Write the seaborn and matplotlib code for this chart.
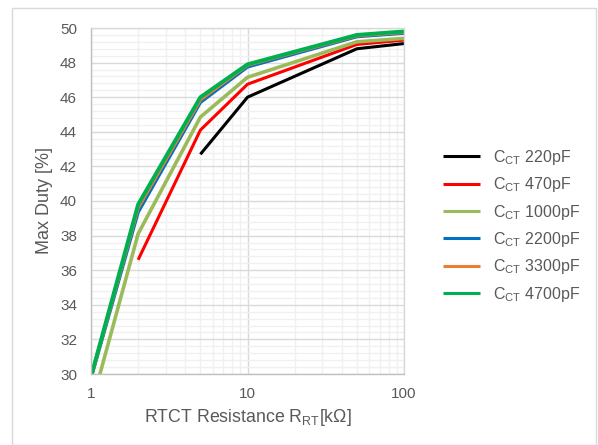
import numpy as np
import pandas as pd
import seaborn as sns
import matplotlib
matplotlib.use("Agg")
import matplotlib.pyplot as plt
from matplotlib.patches import Rectangle
from matplotlib.ticker import MultipleLocator, LogLocator, FixedLocator, NullFormatter

sns.set_theme(style="white")
plt.rcParams['font.family'] = ['Liberation Sans', 'DejaVu Sans']
plt.rcParams['mathtext.fontset'] = 'custom'
plt.rcParams['mathtext.rm'] = 'Liberation Sans'
plt.rcParams['mathtext.it'] = 'Liberation Sans'
plt.rcParams['mathtext.default'] = 'regular'

# Data
resistance = [1, 2, 5, 10, 50, 100]
series_names = ["C$_{CT}$ 220pF", "C$_{CT}$ 470pF", "C$_{CT}$ 1000pF",
                "C$_{CT}$ 2200pF", "C$_{CT}$ 3300pF", "C$_{CT}$ 4700pF"]
duty_220 = [None, None, 42.7, 46.0, 48.8, 49.1]
duty_470 = [None, 36.6, 44.1, 46.75, 49.05, 49.3]
duty_1000 = [28.1, 38.1, 44.85, 47.15, 49.2, 49.4]
duty_2200 = [29.75, 39.35, 45.7, 47.75, 49.5, 49.7]
duty_3300 = [29.8, 39.6, 45.85, 47.85, 49.55, 49.75]
duty_4700 = [29.85, 39.8, 46.0, 47.9, 49.6, 49.8]
colors = ["#000000", "#FF0000", "#9BBB59", "#0070C0", "#ED7D31", "#00B050"]
widths = [2.2, 2.2, 2.6, 2.4, 2.4, 2.8]

all_series = [duty_220, duty_470, duty_1000, duty_2200, duty_3300, duty_4700]
rows = []
for name, vals in zip(series_names, all_series):
    for r, v in zip(resistance, vals):
        if v is not None:
            rows.append({"R": r, "Duty": v, "Series": name})
df = pd.DataFrame(rows)

fig = plt.figure(figsize=(5.98, 4.45), dpi=100)
ax = fig.add_axes([91/598, 1-374/445, (404-91)/598, (374-28)/445])

for name, c, lw in zip(series_names, colors, widths):
    sub = df[df["Series"] == name]
    sns.lineplot(data=sub, x="R", y="Duty", ax=ax, color=c, linewidth=lw,
                 label=name, clip_on=True, solid_capstyle='butt')

ax.set_xscale("log")
ax.set_xlim(1, 100)
ax.set_ylim(30, 50)
ax.yaxis.set_major_locator(MultipleLocator(2))
ax.yaxis.set_minor_locator(MultipleLocator(0.4))
ax.xaxis.set_major_locator(FixedLocator([1, 10, 100]))
ax.xaxis.set_minor_locator(LogLocator(base=10, subs=np.arange(2, 10)))
ax.xaxis.set_minor_formatter(NullFormatter())
ax.set_xticklabels(["1", "10", "100"])

ax.grid(which="major", color="#D9D9D9", linewidth=1.0)
ax.grid(which="minor", color="#F0F0F0", linewidth=1.0)
ax.set_axisbelow(True)
for sp in ax.spines.values():
    sp.set_visible(True)
    sp.set_color("#D9D9D9")
    sp.set_linewidth(1.0)
ax.spines["left"].set_color("#BFBFBF")
ax.spines["bottom"].set_color("#BFBFBF")

ax.tick_params(axis="both", which="both", length=0, labelsize=11, labelcolor="#595959")
ax.tick_params(axis="y", pad=10)
ax.tick_params(axis="x", pad=9)
ax.set_xlabel("RTCT Resistance R$_{RT}$[kΩ]", fontsize=12.8, color="#595959", labelpad=5)
ax.set_ylabel("Max Duty [%]", fontsize=13, color="#595959", labelpad=5)

leg = ax.legend(loc="upper left", bbox_to_anchor=(443/598, 1-148/445), bbox_transform=fig.transFigure,
                frameon=False, fontsize=11.5, handlelength=2.3, handletextpad=0.85,
                borderpad=0, borderaxespad=0, labelspacing=0.52, labelcolor="#595959")
for line in leg.get_lines():
    line.set_linewidth(2.2)

fig.patches.append(Rectangle((12/598, 0), (596-12)/598, 1-8/445, transform=fig.transFigure,
                             fill=False, edgecolor="#D9D9D9", linewidth=1.0))

fig.savefig("out.png", dpi=100)
